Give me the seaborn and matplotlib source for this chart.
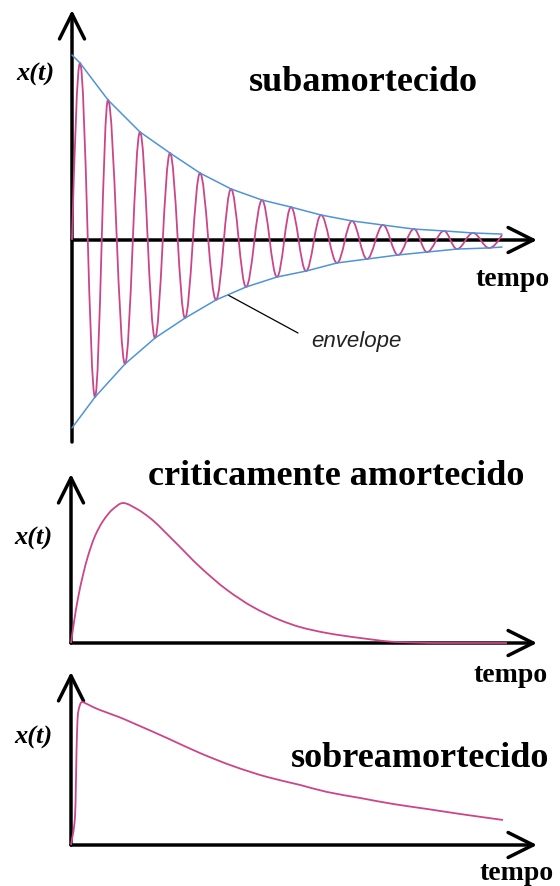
import numpy as np
import matplotlib
matplotlib.use("Agg")
import matplotlib.pyplot as plt
from matplotlib.path import Path
from matplotlib.patches import PathPatch
import seaborn as sns

# ---------------------------------------------------------------------------
# Data
# ---------------------------------------------------------------------------
# Underdamped oscillation: successive extrema (time, displacement)
under_t = [0.0, 0.186, 0.535, 0.837, 1.233, 1.581, 1.930, 2.279, 2.628, 2.977,
           3.349, 3.698, 4.047, 4.419, 4.767, 5.093, 5.442, 5.791, 6.163,
           6.512, 6.860, 7.233, 7.581, 7.953, 8.256, 8.651, 8.953, 9.326,
           9.698, 10.0]
under_x = [0.0, 0.957, -0.849, 0.757, -0.670, 0.584, -0.530, 0.470, -0.422,
           0.362, -0.324, 0.276, -0.254, 0.216, -0.200, 0.178, -0.168, 0.135,
           -0.124, 0.103, -0.103, 0.081, -0.081, 0.059, -0.065, 0.049, -0.049,
           0.038, -0.043, 0.027]

# Exponential envelope, upper and lower branches
env_up_t = [0.0, 0.186, 0.837, 1.581, 2.279, 2.977, 3.698, 4.419, 5.093,
            5.791, 6.512, 7.233, 7.953, 8.651, 9.326, 10.0]
env_up_x = [1.000, 0.957, 0.757, 0.584, 0.470, 0.362, 0.276, 0.216, 0.178,
            0.135, 0.103, 0.081, 0.059, 0.049, 0.038, 0.032]
env_lo_t = [0.0, 0.535, 1.233, 1.930, 2.628, 3.349, 4.047, 4.767, 5.442,
            6.163, 6.860, 7.581, 8.256, 8.953, 9.698, 10.0]
env_lo_x = [-1.016, -0.849, -0.670, -0.530, -0.422, -0.324, -0.254, -0.200,
            -0.168, -0.124, -0.103, -0.081, -0.065, -0.049, -0.043, -0.038]

# Critically damped response
crit_t = [0.0, 0.070, 0.163, 0.279, 0.395, 0.558, 0.744, 0.977, 1.209, 1.535,
          1.837, 2.372, 3.0, 3.628, 4.233, 4.860, 5.326, 5.953, 6.721, 7.581,
          8.581, 10.14]
crit_x = [0.0, 0.150, 0.321, 0.486, 0.621, 0.764, 0.871, 0.957, 1.000, 0.957,
          0.893, 0.736, 0.543, 0.379, 0.257, 0.164, 0.114, 0.071, 0.036, 0.007,
          0.0, 0.0]

# Overdamped response
over_t = [0.0, 0.093, 0.140, 0.163, 0.256, 0.372, 0.512, 0.674, 1.116, 1.442,
          2.233, 3.0, 3.767, 4.558, 5.326, 5.953, 6.721, 7.488, 8.279, 9.047,
          10.047]
over_x = [0.0, 0.196, 0.783, 0.923, 1.000, 0.986, 0.965, 0.944, 0.895, 0.853,
          0.748, 0.643, 0.552, 0.476, 0.420, 0.371, 0.329, 0.287, 0.252, 0.217,
          0.175]

titles = ["subamortecido", "criticamente amortecido", "sobreamortecido"]
y_label = "x(t)"
x_label = "tempo"
envelope_label = "envelope"

# ---------------------------------------------------------------------------
# Style
# ---------------------------------------------------------------------------
sns.set_theme(style="white")
plt.rcParams["font.family"] = ["Liberation Serif", "DejaVu Serif"]

PINK = "#cc4588"
BLUE = "#4f93d8"
W, H = 560, 886
DPI = 100

fig = plt.figure(figsize=(W / DPI, H / DPI), dpi=DPI)
fig.patch.set_facecolor("white")


def fig_xy(px, py):
    """Pixel position (from top-left) to figure fraction."""
    return px / W, 1 - py / H


def make_axes(top_px, bottom_px, xlim, ylim):
    ax = fig.add_axes([0, 1 - bottom_px / H, 1, (bottom_px - top_px) / H])
    ax.set_xlim(*xlim)
    ax.set_ylim(*ylim)
    ax.set_axis_off()
    ax.patch.set_alpha(0)
    return ax


def draw_axes_arrows(ax, y_bottom, y_top, x_right):
    kw = dict(arrowstyle="->,head_length=1.8,head_width=0.9", lw=2.5,
              color="black", shrinkA=0, shrinkB=0, mutation_scale=10)
    ax.annotate("", xy=(0, y_top), xytext=(0, y_bottom), arrowprops=kw)
    ax.annotate("", xy=(x_right, 0), xytext=(0, 0), arrowprops=kw)


def oscillation_path(ts, xs):
    """Smooth curve through successive extrema (zero at both ends)."""
    verts = [(ts[0], xs[0])]
    codes = [Path.MOVETO]
    n = len(ts)
    for i in range(n - 1):
        t0, x0, t1, x1 = ts[i], xs[i], ts[i + 1], xs[i + 1]
        d = t1 - t0
        if i == 0:
            c1 = (t0 + d / 3, x0 + 0.52 * (x1 - x0))
            c2 = (t1 - 0.36 * d, x1)
        elif i == n - 2:
            c1 = (t0 + 0.36 * d, x0)
            c2 = (t1 - d / 3, x1 - 0.52 * (x1 - x0))
        else:
            c1 = (t0 + 0.363 * d, x0)
            c2 = (t1 - 0.363 * d, x1)
        verts += [c1, c2, (t1, x1)]
        codes += [Path.CURVE4] * 3
    return Path(verts, codes)


def hermite_path(ts, xs):
    """Monotone cubic (Fritsch-Carlson) curve through the points, as Beziers."""
    t = np.asarray(ts, float)
    x = np.asarray(xs, float)
    h = np.diff(t)
    delta = np.diff(x) / h
    m = np.zeros_like(x)
    m[0], m[-1] = delta[0], delta[-1]
    for k in range(1, len(x) - 1):
        if delta[k - 1] * delta[k] <= 0:
            m[k] = 0.0
        else:
            w1 = 2 * h[k] + h[k - 1]
            w2 = h[k] + 2 * h[k - 1]
            m[k] = (w1 + w2) / (w1 / delta[k - 1] + w2 / delta[k])
    verts = [(t[0], x[0])]
    codes = [Path.MOVETO]
    for k in range(len(x) - 1):
        verts += [(t[k] + h[k] / 3, x[k] + m[k] * h[k] / 3),
                  (t[k + 1] - h[k] / 3, x[k + 1] - m[k + 1] * h[k] / 3),
                  (t[k + 1], x[k + 1])]
        codes += [Path.CURVE4] * 3
    return Path(verts, codes)


# ---------------------------------------------------------------------------
# Panel 1: underdamped
# ---------------------------------------------------------------------------
ax1 = make_axes(0, 450, (-72 / 43, 488 / 43), (-210 / 185, 240 / 185))
draw_axes_arrows(ax1, -1.092, 1.243, 10.814)
ax1.add_patch(PathPatch(oscillation_path(under_t, under_x), fill=False,
                        edgecolor=PINK, lw=1.3, zorder=3))
sns.lineplot(x=env_up_t, y=env_up_x, ax=ax1, color=BLUE, lw=1.1,
             sort=False, estimator=None, zorder=4)
sns.lineplot(x=env_lo_t, y=env_lo_x, ax=ax1, color=BLUE, lw=1.1,
             sort=False, estimator=None, zorder=4)
# leader line from the envelope to its label
ax1.plot([(228 - 72) / 43, (298 - 72) / 43],
         [(240 - 295) / 185, (240 - 333) / 185], color="black", lw=0.9)

# ---------------------------------------------------------------------------
# Panel 2: critically damped
# ---------------------------------------------------------------------------
ax2 = make_axes(450, 660, (-71 / 43, 489 / 43), (-17 / 140, 193 / 140))
draw_axes_arrows(ax2, 0, 1.207, 10.837)
ax2.add_patch(PathPatch(hermite_path(crit_t, crit_x), fill=False,
                        edgecolor=PINK, lw=1.3, zorder=4))

# ---------------------------------------------------------------------------
# Panel 3: overdamped
# ---------------------------------------------------------------------------
ax3 = make_axes(660, 886, (-71 / 43, 489 / 43), (-41 / 143, 185 / 143))
draw_axes_arrows(ax3, 0, 1.210, 10.837)
ax3.add_patch(PathPatch(hermite_path(over_t, over_x), fill=False,
                        edgecolor=PINK, lw=1.3, zorder=4))

# ---------------------------------------------------------------------------
# Text
# ---------------------------------------------------------------------------
title_kw = dict(fontsize=26, fontweight="bold", ha="center", va="baseline",
                color="black")
fig.text(*fig_xy(363, 91), titles[0], **title_kw)
fig.text(*fig_xy(336, 485), titles[1], **title_kw)
fig.text(*fig_xy(420, 767), titles[2], **title_kw)

tempo_kw = dict(fontsize=20, fontweight="bold", ha="center", va="baseline",
                color="black")
fig.text(*fig_xy(513, 286), x_label, **tempo_kw)
fig.text(*fig_xy(511, 682), x_label, **tempo_kw)
fig.text(*fig_xy(517, 880), x_label, **tempo_kw)

xt_kw = dict(fontsize=19, fontweight="bold", fontstyle="italic",
             ha="center", va="center", color="black")
fig.text(*fig_xy(35, 74), y_label, **xt_kw)
fig.text(*fig_xy(33, 538), y_label, **xt_kw)
fig.text(*fig_xy(33, 737), y_label, **xt_kw)

fig.text(*fig_xy(356, 342), envelope_label, fontsize=16, fontstyle="italic",
         family=["Liberation Sans", "DejaVu Sans"], ha="center", va="center",
         color="#222222")

fig.savefig("out.png", dpi=DPI, facecolor="white")
